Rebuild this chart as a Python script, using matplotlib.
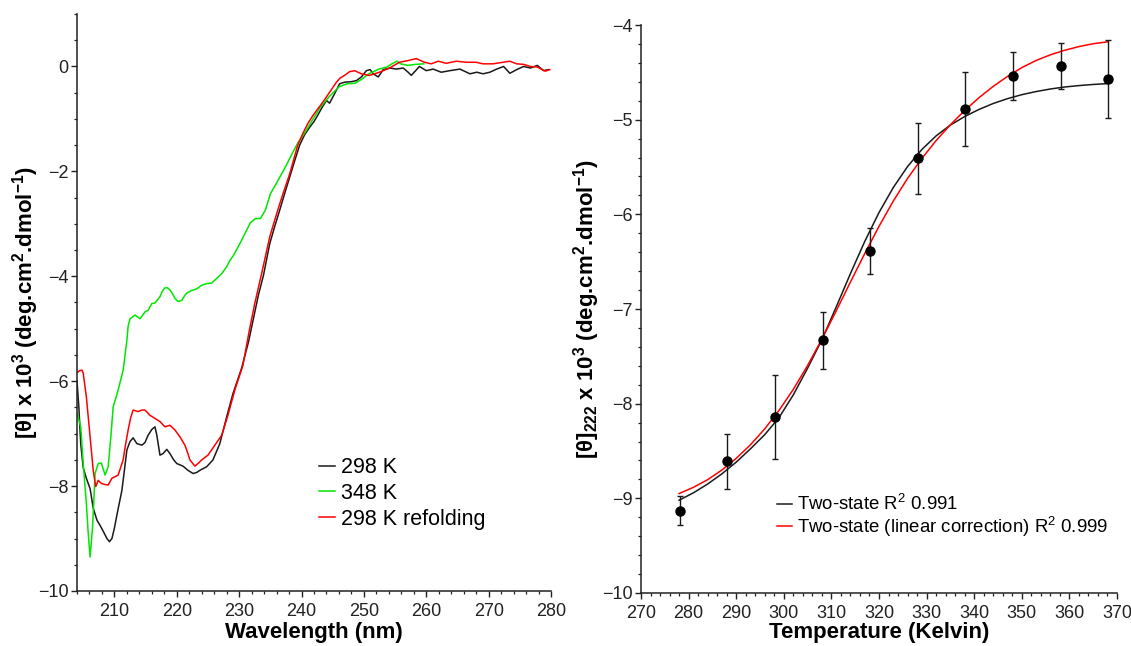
import matplotlib
matplotlib.use("Agg")
import matplotlib.pyplot as plt
from matplotlib.ticker import MultipleLocator

plt.rcParams['font.family'] = ['Liberation Sans', 'DejaVu Sans']
plt.rcParams['mathtext.fontset'] = 'custom'
plt.rcParams['mathtext.rm'] = 'Liberation Sans'
plt.rcParams['mathtext.it'] = 'Liberation Sans:italic'
plt.rcParams['mathtext.bf'] = 'Liberation Sans:bold'

# ---- CD spectra (mean residue ellipticity, x 10^3) ----
wl_298 = [204.0, 204.3, 204.6, 205.0, 205.5, 206.1, 206.6, 207.2, 207.7, 208.2, 208.8, 209.2,
          209.6, 210.0, 210.4, 211.2, 211.6, 212.0, 212.5, 213.0, 213.6, 214.4, 214.9, 215.4,
          216.0, 216.5, 216.8, 217.3, 217.8, 218.4, 218.9, 219.5, 220.0, 221.0, 221.8, 222.6,
          223.2, 223.7, 224.8, 225.8, 226.9, 228.0, 229.0, 230.4, 231.5, 232.3, 233.1, 233.9,
          234.9, 235.7, 236.5, 237.3, 238.1, 238.9, 239.7, 240.5, 241.3, 242.0, 242.6, 243.3,
          244.0, 244.5, 245.3, 246.1, 246.9, 248.0, 248.8, 249.6, 250.4, 251.0, 251.5, 252.3,
          253.1, 254.2, 255.2, 256.3, 257.0, 257.6, 258.3, 258.9, 260.0, 261.1, 262.4, 263.8,
          265.4, 267.0, 268.1, 269.1, 270.2, 271.3, 272.4, 273.4, 274.5, 275.6, 276.7, 277.8,
          278.8, 279.6]
cd_298 = [-6.0, -6.5, -7.2, -7.65, -7.85, -8.05, -8.42, -8.65, -8.75, -8.86, -9.0, -9.06,
          -9.0, -8.8, -8.55, -8.08, -7.7, -7.31, -7.15, -7.08, -7.19, -7.22, -7.17, -7.03,
          -6.92, -6.87, -7.03, -7.41, -7.38, -7.30, -7.38, -7.50, -7.57, -7.62, -7.70, -7.76,
          -7.74, -7.70, -7.63, -7.50, -7.19, -6.68, -6.24, -5.75, -5.25, -4.80, -4.35, -3.98,
          -3.38, -3.05, -2.74, -2.42, -2.11, -1.80, -1.50, -1.30, -1.16, -1.05, -0.93, -0.78,
          -0.65, -0.70, -0.52, -0.33, -0.30, -0.29, -0.27, -0.20, -0.08, -0.06, -0.14, -0.20,
          -0.06, -0.03, -0.05, -0.03, -0.10, -0.17, -0.08, 0.00, -0.08, -0.05, -0.11, -0.08,
          -0.05, -0.14, -0.11, -0.14, -0.11, -0.05, 0.00, -0.13, -0.06, 0.00, -0.03, 0.02,
          -0.08, -0.06]

wl_348 = [204.0, 204.6, 205.0, 205.5, 205.8, 206.1, 206.5, 206.9, 207.4, 207.9, 208.5, 209.0,
          209.4, 209.8, 210.6, 211.4, 212.0, 212.2, 212.5, 213.3, 214.1, 214.9, 215.4, 216.0,
          216.5, 217.3, 217.7, 218.1, 218.5, 218.9, 219.3, 219.7, 220.2, 220.8, 221.2, 221.6,
          222.4, 223.2, 224.0, 224.8, 225.6, 226.4, 227.2, 228.0, 228.5, 229.1, 230.1, 231.2,
          231.8, 232.6, 233.4, 234.2, 235.0, 236.1, 237.4, 238.5, 239.5, 240.6, 241.7, 243.0,
          244.4, 246.0, 247.3, 248.6, 249.7, 250.8, 252.4, 253.7, 254.5, 255.3, 255.9, 257.0,
          258.3, 259.6]
cd_348 = [-6.61, -6.87, -7.57, -8.33, -8.9, -9.35, -8.77, -7.76, -7.57, -7.56, -7.79, -7.63,
          -7.1, -6.49, -6.17, -5.79, -5.22, -4.95, -4.81, -4.74, -4.81, -4.68, -4.65, -4.52,
          -4.51, -4.39, -4.28, -4.22, -4.22, -4.26, -4.33, -4.42, -4.48, -4.46, -4.38, -4.32,
          -4.27, -4.24, -4.17, -4.14, -4.13, -4.04, -3.95, -3.82, -3.70, -3.60, -3.38, -3.12,
          -2.98, -2.90, -2.90, -2.74, -2.43, -2.20, -1.92, -1.66, -1.44, -1.25, -1.03, -0.78,
          -0.58, -0.39, -0.33, -0.32, -0.24, -0.14, -0.05, -0.01, 0.05, 0.10, 0.05, 0.02,
          0.04, 0.05]

wl_refold = [204.0, 204.4, 204.8, 205.0, 205.5, 206.1, 206.6, 207.0, 207.4, 207.9, 208.5, 209.0,
             209.6, 210.1, 210.6, 211.4, 211.8, 212.2, 212.6, 213.0, 213.8, 214.4, 214.9, 215.7,
             216.5, 217.3, 218.1, 218.9, 219.7, 220.5, 221.3, 221.7, 222.1, 222.9, 223.4, 224.0,
             225.0, 226.1, 227.2, 228.2, 229.3, 230.6, 231.6, 232.5, 233.6, 234.9, 235.7, 236.5,
             237.3, 238.1, 238.8, 239.4, 240.2, 241.0, 241.8, 242.6, 243.3, 244.0, 244.8, 245.6,
             246.2, 246.9, 247.7, 248.5, 249.6, 250.9, 252.5, 254.1, 255.7, 257.0, 258.4, 259.7,
             260.8, 261.9, 263.2, 264.8, 266.4, 268.0, 269.1, 270.7, 272.3, 273.4, 274.5, 275.6,
             276.7, 277.8, 279.1, 279.8]
cd_refold = [-5.84, -5.80, -5.79, -5.85, -6.30, -7.06, -7.70, -8.01, -7.89, -7.95, -7.97, -7.98,
             -7.85, -7.82, -7.79, -7.50, -7.20, -6.93, -6.70, -6.55, -6.58, -6.55, -6.55, -6.65,
             -6.71, -6.77, -6.87, -6.84, -6.93, -7.06, -7.22, -7.35, -7.50, -7.62, -7.57, -7.50,
             -7.41, -7.22, -7.03, -6.65, -6.17, -5.70, -5.05, -4.52, -3.95, -3.25, -2.93, -2.62,
             -2.33, -2.05, -1.75, -1.50, -1.28, -1.09, -0.94, -0.81, -0.70, -0.58, -0.44, -0.30,
             -0.22, -0.17, -0.10, -0.08, -0.14, -0.17, -0.11, -0.03, 0.08, 0.11, 0.15, 0.08,
             0.05, 0.10, 0.06, 0.10, 0.08, 0.08, 0.05, 0.05, 0.08, 0.10, 0.05, 0.04,
             0.00, -0.01, -0.09, -0.06]

spectra_labels = ['298 K', '348 K', '298 K refolding']
spectra_colors = ['#1a1a1a', '#00e600', '#ff0000']

# ---- Thermal melt at 222 nm ----
temps = [278.15, 288.15, 298.15, 308.15, 318.15, 328.15, 338.15, 348.15, 358.15, 368.15]
theta222 = [-9.13, -8.61, -8.14, -7.33, -6.39, -5.41, -4.89, -4.54, -4.43, -4.57]
theta222_err = [0.15, 0.29, 0.44, 0.30, 0.245, 0.38, 0.39, 0.25, 0.245, 0.41]

fit_temps = [278, 281, 284, 287, 290, 293, 296, 299, 302, 305, 308, 311, 314, 317, 320, 323,
             326, 329, 332, 335, 338, 341, 344, 347, 350, 353, 356, 359, 362, 365, 368]
fit_two_state = [-9.020, -8.942, -8.849, -8.741, -8.618, -8.477, -8.327, -8.147, -7.907,
                 -7.625, -7.325, -6.980, -6.626, -6.287, -5.981, -5.717, -5.495, -5.315,
                 -5.171, -5.057, -4.967, -4.892, -4.829, -4.778, -4.736, -4.703, -4.676,
                 -4.655, -4.640, -4.628, -4.619]
fit_linear = [-8.950, -8.884, -8.803, -8.701, -8.578, -8.434, -8.266, -8.071, -7.849,
              -7.597, -7.318, -7.021, -6.715, -6.415, -6.127, -5.860, -5.620, -5.410,
              -5.221, -5.053, -4.903, -4.768, -4.648, -4.543, -4.450, -4.375, -4.315,
              -4.267, -4.228, -4.198, -4.178]
fit_labels = ['Two-state R$^{2}$ 0.991', 'Two-state (linear correction) R$^{2}$ 0.999']

W, H = 1131, 646
fig = plt.figure(figsize=(W / 100, H / 100), dpi=100)
ax1 = fig.add_axes([77 / W, 1 - 591 / H, (551 - 77) / W, (591 - 14) / H])
ax2 = fig.add_axes([641 / W, 1 - 593 / H, (1117 - 641) / W, (593 - 25) / H])


def style_axes(ax):
    for side in ('top', 'right'):
        ax.spines[side].set_visible(False)
    for side in ('left', 'bottom'):
        ax.spines[side].set_linewidth(1.1)
        ax.spines[side].set_color('#222222')
    ax.tick_params(which='major', direction='out', length=4, width=1.0, labelsize=13,
                   pad=2, colors='#222222')
    ax.tick_params(which='minor', direction='out', length=2.2, width=0.9, colors='#222222')
    ax.tick_params(axis='x', which='major', pad=4.5)


# ---- left: spectra ----
for wl, cd, lab, col in zip([wl_298, wl_348, wl_refold], [cd_298, cd_348, cd_refold],
                            spectra_labels, spectra_colors):
    ax1.plot(wl, cd, color=col, lw=1.1, label=lab)
ax1.set_xlim(204, 280)
ax1.set_ylim(-10, 1)
ax1.xaxis.set_major_locator(MultipleLocator(10))
ax1.xaxis.set_minor_locator(MultipleLocator(2))
ax1.yaxis.set_minor_locator(MultipleLocator(0.5))
ax1.set_yticks([0, -2, -4, -6, -8, -10])
style_axes(ax1)
ax1.set_xlabel('Wavelength (nm)', fontsize=16, fontweight='bold')
ax1.xaxis.set_label_coords(0.5, -0.053)
ax1.set_ylabel(r'[θ] x 10$^{\mathbf{3}}$ (deg.cm$^{\mathbf{2}}$.dmol$^{\mathbf{-1}}$)',
               fontsize=16, fontweight='bold')
ax1.yaxis.set_label_coords(-0.075, 0.5)
ax1.legend(loc='upper left', bbox_to_anchor=(0.4916, 0.247), frameon=False, fontsize=15.5,
           handlelength=0.75, handletextpad=0.3, labelspacing=0.22, borderaxespad=0)

# ---- right: thermal denaturation ----
ax2.plot(fit_temps, fit_two_state, color='#1a1a1a', lw=1.1, label=fit_labels[0])
ax2.plot(fit_temps, fit_linear, color='#ff0000', lw=1.1, label=fit_labels[1])
ax2.errorbar(temps, theta222, yerr=theta222_err, fmt='o', color='black', ms=6.5,
             ecolor='#1a1a1a', elinewidth=1.0, capsize=2.5, capthick=1.0, zorder=3)
ax2.set_xlim(270, 370)
ax2.set_ylim(-10, -4)
ax2.xaxis.set_major_locator(MultipleLocator(10))
ax2.xaxis.set_minor_locator(MultipleLocator(2))
ax2.yaxis.set_major_locator(MultipleLocator(1))
ax2.yaxis.set_minor_locator(MultipleLocator(0.2))
style_axes(ax2)
ax2.set_xlabel('Temperature (Kelvin)', fontsize=16, fontweight='bold')
ax2.xaxis.set_label_coords(0.5, -0.051)
ax2.set_ylabel(r'[θ]$_{\mathbf{222}}$ x 10$^{\mathbf{3}}$ (deg.cm$^{\mathbf{2}}$.dmol$^{\mathbf{-1}}$)',
               fontsize=16, fontweight='bold')
ax2.yaxis.set_label_coords(-0.082, 0.5)
ax2.legend(loc='upper left', bbox_to_anchor=(0.270, 0.187), frameon=False, fontsize=13.4,
           handlelength=0.8, handletextpad=0.3, labelspacing=0.02, borderaxespad=0)

fig.savefig('out.png', dpi=100)
